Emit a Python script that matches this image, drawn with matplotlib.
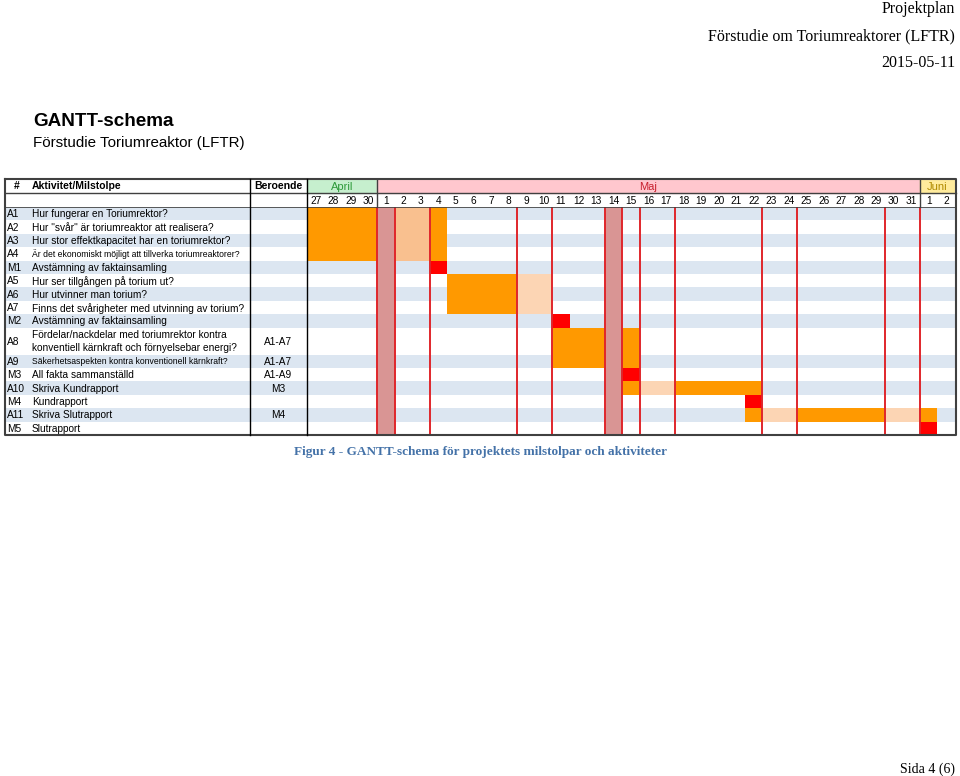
import matplotlib
matplotlib.use("Agg")
import matplotlib.pyplot as plt

# --- data -------------------------------------------------------------
days = ["27", "28", "29", "30"] + [str(d) for d in range(1, 32)] + ["1", "2"]
months = [("April", 0, 4), ("Maj", 4, 35), ("Juni", 35, 37)]

ids = ["A1", "A2", "A3", "A4", "M1", "A5", "A6", "A7", "M2", "A8",
       "A9", "M3", "A10", "M4", "A11", "M5"]
names = ["Hur fungerar en Toriumrektor?",
         'Hur "svår" är toriumreaktor att realisera?',
         "Hur stor effektkapacitet har en toriumrektor?",
         "Är det ekonomiskt möjligt att tillverka toriumreaktorer?",
         "Avstämning av faktainsamling",
         "Hur ser tillgången på torium ut?",
         "Hur utvinner man torium?",
         "Finns det svårigheter med utvinning av torium?",
         "Avstämning av faktainsamling",
         "Fördelar/nackdelar med toriumrektor kontra\nkonventiell kärnkraft och förnyelsebar energi?",
         "Säkerhetsaspekten kontra konventionell kärnkraft?",
         "All fakta sammanställd",
         "Skriva Kundrapport",
         "Kundrapport",
         "Skriva Slutrapport",
         "Slutrapport"]
small_names = ["A4", "A9"]
deps = {"A8": "A1-A7", "A9": "A1-A7", "M3": "A1-A9", "A10": "M3", "A11": "M4"}
row_h = [2 if i == "A8" else 1 for i in ids]

# bars: task -> list of (first day index, number of days, kind)
bars = {
    "A1": [(0, 4, "o"), (5, 2, "w1"), (7, 1, "o")],
    "A2": [(0, 4, "o"), (5, 2, "w1"), (7, 1, "o")],
    "A3": [(0, 4, "o"), (5, 2, "w1"), (7, 1, "o")],
    "A4": [(0, 4, "o"), (5, 2, "w1"), (7, 1, "o")],
    "M1": [(7, 1, "m")],
    "A5": [(8, 4, "o"), (12, 2, "w")],
    "A6": [(8, 4, "o"), (12, 2, "w")],
    "A7": [(8, 4, "o"), (12, 2, "w")],
    "M2": [(14, 1, "m")],
    "A8": [(14, 3, "o"), (18, 1, "o")],
    "A9": [(14, 3, "o"), (18, 1, "o")],
    "M3": [(18, 1, "m")],
    "A10": [(18, 1, "o"), (19, 2, "w"), (21, 5, "o")],
    "M4": [(25, 1, "m")],
    "A11": [(25, 1, "o"), (26, 2, "w"), (28, 5, "o"), (33, 2, "w"), (35, 1, "o")],
    "M5": [(35, 1, "m")],
}
holidays = [4, 17]
weekends = [(5, 2), (12, 2), (19, 2), (26, 2), (33, 2)]

palette = {"o": "#FF9900", "w1": "#F9C08F", "w": "#FCD5B4", "m": "#FF0000",
           "holiday": "#D99594", "band": "#DCE6F1", "redline": "#E0262B",
           "border": "#404040"}
month_style = {"April": ("#C6EFCE", "#2E9A3A"),
               "Maj": ("#FFC7CE", "#C8202E"),
               "Juni": ("#FFEB9C", "#B08A00")}

# --- layout (pixels) --------------------------------------------------
W, H = 960, 776
x0, x_act, x_dep, x_days, x_end = 5, 28, 250, 307, 955
y_top, y_h1, y_h2, y_bot = 179, 193, 207, 435
n_units = sum(row_h)
RH = (y_bot - y_h2) / n_units
DW = (x_end - x_days) / len(days)
FS = 7.3

fig = plt.figure(figsize=(W / 100, H / 100), dpi=100)
sans = "Liberation Sans"
serif = "Liberation Serif"

# gantt axes in day/row units
gx = fig.add_axes([x_days / W, 1 - y_bot / H, (x_end - x_days) / W, (y_bot - y_h2) / H])
gx.set_xlim(0, len(days))
gx.set_ylim(n_units, 0)
gx.axis("off")
gx.set_zorder(0)

# overlay axes in pixels for table text and borders
ax = fig.add_axes([0, 0, 1, 1])
ax.set_xlim(0, W)
ax.set_ylim(H, 0)
ax.axis("off")
ax.set_zorder(1)
ax.patch.set_alpha(0)

extra = (x_days - x0) / DW
starts = []
u = 0
for k, tid in enumerate(ids):
    starts.append(u)
    if k % 2 == 0:
        gx.barh(u + row_h[k] / 2, len(days) + extra, left=-extra, height=row_h[k],
                color=palette["band"], clip_on=False, zorder=1)
    u += row_h[k]

for d in holidays:
    gx.bar(d + 0.5, n_units, bottom=0, width=1, color=palette["holiday"], zorder=2)

for k, tid in enumerate(ids):
    for s, n, kind in bars.get(tid, []):
        gx.barh(starts[k] + row_h[k] / 2, n, left=s, height=row_h[k],
                color=palette[kind], zorder=3)

lines = set()
for d in holidays:
    lines.update([d, d + 1])
for s, n in weekends:
    lines.update([s, s + n])
for d in sorted(lines):
    gx.axvline(d, color=palette["redline"], lw=1.4, zorder=4)

# header
for name, a, b in months:
    fc, tc = month_style[name]
    xa, xb = x_days + a * DW, x_days + b * DW
    ax.add_patch(plt.Rectangle((xa, y_top), xb - xa, y_h1 - y_top, color=fc, zorder=0))
    ax.text((xa + xb) / 2, (y_top + y_h1) / 2 + 0.5, name, color=tc, ha="center",
            va="center", fontsize=8, family=sans)
    if a > 0:
        ax.plot([xa, xa], [y_top, y_h2], color=palette["border"], lw=1)

for i, lab in enumerate(days):
    ax.text(x_days + (i + 0.5) * DW, (y_h1 + y_h2) / 2 + 0.5, lab, ha="center",
            va="center", fontsize=FS, family=sans)

ax.text(17, (y_top + y_h1) / 2, "#", ha="center", va="center", fontsize=7.5,
        weight="bold", family=sans)
ax.text(32, (y_top + y_h1) / 2, "Aktivitet/Milstolpe", ha="left", va="center",
        fontsize=7.5, weight="bold", family=sans)
ax.text((x_dep + x_days) / 2, (y_top + y_h1) / 2, "Beroende", ha="center",
        va="center", fontsize=7.6, weight="bold", family=sans)

# table rows
for k, tid in enumerate(ids):
    yc = y_h2 + (starts[k] + row_h[k] / 2) * RH + 0.5
    ax.text(7, yc, tid, ha="left", va="center", fontsize=FS, family=sans)
    fs = 6.2 if tid in small_names else FS
    parts = names[k].split("\n")
    if len(parts) == 1:
        ax.text(32, yc, parts[0], ha="left", va="center", fontsize=fs, family=sans)
    else:
        ax.text(32, yc - RH / 2, parts[0], ha="left", va="center", fontsize=fs, family=sans)
        ax.text(32, yc + RH / 2, parts[1], ha="left", va="center", fontsize=fs, family=sans)
    if tid in deps:
        ax.text((x_dep + x_days) / 2, yc, deps[tid], ha="center", va="center",
                fontsize=FS, family=sans)

# borders
bc = palette["border"]
ax.plot([x0, x_end + 1, x_end + 1, x0, x0], [y_top, y_top, y_bot, y_bot, y_top],
        color=bc, lw=1.5)
ax.plot([x0, x_end + 1], [y_h1, y_h1], color=bc, lw=1)
ax.plot([x0, x_end + 1], [y_h2, y_h2], color=bc, lw=0.6)
for xv in (x_dep, x_days):
    ax.plot([xv, xv], [y_top, y_bot], color="black", lw=1)

# page texts
ax.text(955, 9, "Projektplan", ha="right", va="center", fontsize=11.5, family=serif)
ax.text(955, 36, "Förstudie om Toriumreaktorer (LFTR)", ha="right", va="center",
        fontsize=11.5, family=serif)
ax.text(955, 63, "2015-05-11", ha="right", va="center", fontsize=11.5, family=serif)
ax.text(33, 122, "GANTT-schema", ha="left", va="center", fontsize=13.6,
        weight="bold", family=sans)
ax.text(33, 143, "Förstudie Toriumreaktor (LFTR)", ha="left", va="center",
        fontsize=10.9, family=sans)
ax.text(481, 452, "Figur 4 - GANTT-schema för projektets milstolpar och aktiviteter",
        ha="center", va="center", fontsize=9.5, weight="bold", color="#4472A8",
        family=serif)
ax.text(955, 769, "Sida 4 (6)", ha="right", va="center", fontsize=10, family=serif)

fig.savefig("out.png", dpi=100)
